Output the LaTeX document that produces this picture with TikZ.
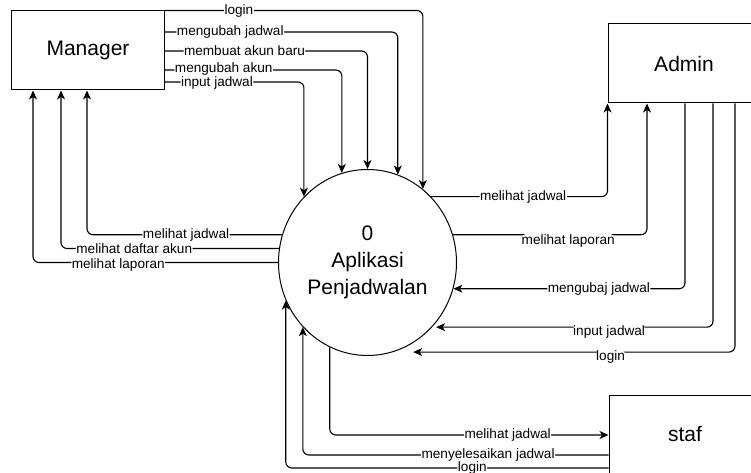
\documentclass[tikz,border=0pt]{standalone}
\usepackage{fontspec}
\setmainfont{Liberation Sans}
\usetikzlibrary{shapes.geometric,arrows.meta}

\begin{document}
\begin{tikzpicture}[x=1bp,y=-1bp,
  entity/.style={draw, line width=1bp, minimum width=152bp, minimum height=79bp,
    inner sep=0pt, font=\fontsize{21bp}{26.5bp}\selectfont},
  proc/.style={draw, ellipse, line width=1bp, minimum width=178bp, minimum height=186bp,
    inner sep=0pt, align=center, font=\fontsize{21bp}{26.7bp}\selectfont},
  flow/.style={line width=1.1bp, rounded corners=6bp,
    -{Stealth[length=9bp,width=8bp,inset=2.5bp]}},
  lbl/.style={fill=white, inner sep=0.5bp, font=\fontsize{13.6bp}{16bp}\selectfont},
]
\useasboundingbox (0,0) rectangle (751,473);
\clip (0,0) rectangle (751,473);

% external entities and the process
\node[entity] (mgr) at (88,50.5) {Manager};
\node[entity] (adm) at (684,63.5) {Admin};
\node[entity] (stf) at (685,434.5) {staf};
\node[proc] (c) at (367.5,262.5) {0\\Aplikasi\\Penjadwalan};

% Manager -> process
\draw[flow] (mgr.north east) -| node[lbl,pos=0.144]{login} (c.53.45);
\draw[flow] (mgr.east |- 0,32) -| node[lbl,pos=0.141]{mengubah jadwal} (c.71.4);
\draw[flow] (mgr.east |- 0,51) -| node[lbl,pos=0.197]{membuat akun baru} (c.north);
\draw[flow] (mgr.east |- 0,70) -| node[lbl,pos=0.167,yshift=1bp]{mengubah akun} (c.106);
\draw[flow] (mgr.east |- 0,82) -| node[lbl,pos=0.188,yshift=-1bp]{input jadwal} (c.134.7);

% process -> Manager
\draw[flow] (c.162.1) -| node[lbl,pos=0.246]{melihat jadwal} (mgr.south -| 87,0);
\draw[flow] (c.171.5) -| node[lbl,pos=0.332]{melihat daftar akun} (mgr.south -| 61,0);
\draw[flow] (c.west) -| node[lbl,pos=0.326,yshift=-2bp]{melihat laporan} (mgr.south -| 33,0);

% process -> Admin
\draw[flow] (c.46.9) -| node[lbl,pos=0.261]{melihat jadwal} (adm.south west);
\draw[flow] (c.18.4) -| node[lbl,pos=0.297,yshift=-6bp]{melihat laporan} (adm.south -| 647,0);

% Admin -> process
\draw[flow] (adm.south -| 685,0) |- node[lbl,pos=0.686]{mengubaj jadwal} (c.-17.26);
\draw[flow,shorten >=4bp] (adm.south -| 713,0) |- node[lbl,pos=0.685,yshift=-4.5bp]{input jadwal} (c.-45.2);
\draw[flow,shorten >=20bp] (adm.south -| 735,0) |- node[lbl,pos=0.682,yshift=-4.5bp]{login} (c.-74.9);

% process <-> staf
\draw[flow] (c.246) |- node[lbl,pos=0.819]{melihat jadwal} (stf.west |- 0,435);
\draw[flow] (stf.west |- 0,455) -| node[lbl,pos=0.197]{menyelesaikan jadwal} (c.225.1);
\draw[flow] (stf.west |- 0,468) -| node[lbl,pos=0.211]{login} (c.205.8);
\end{tikzpicture}
\end{document}
